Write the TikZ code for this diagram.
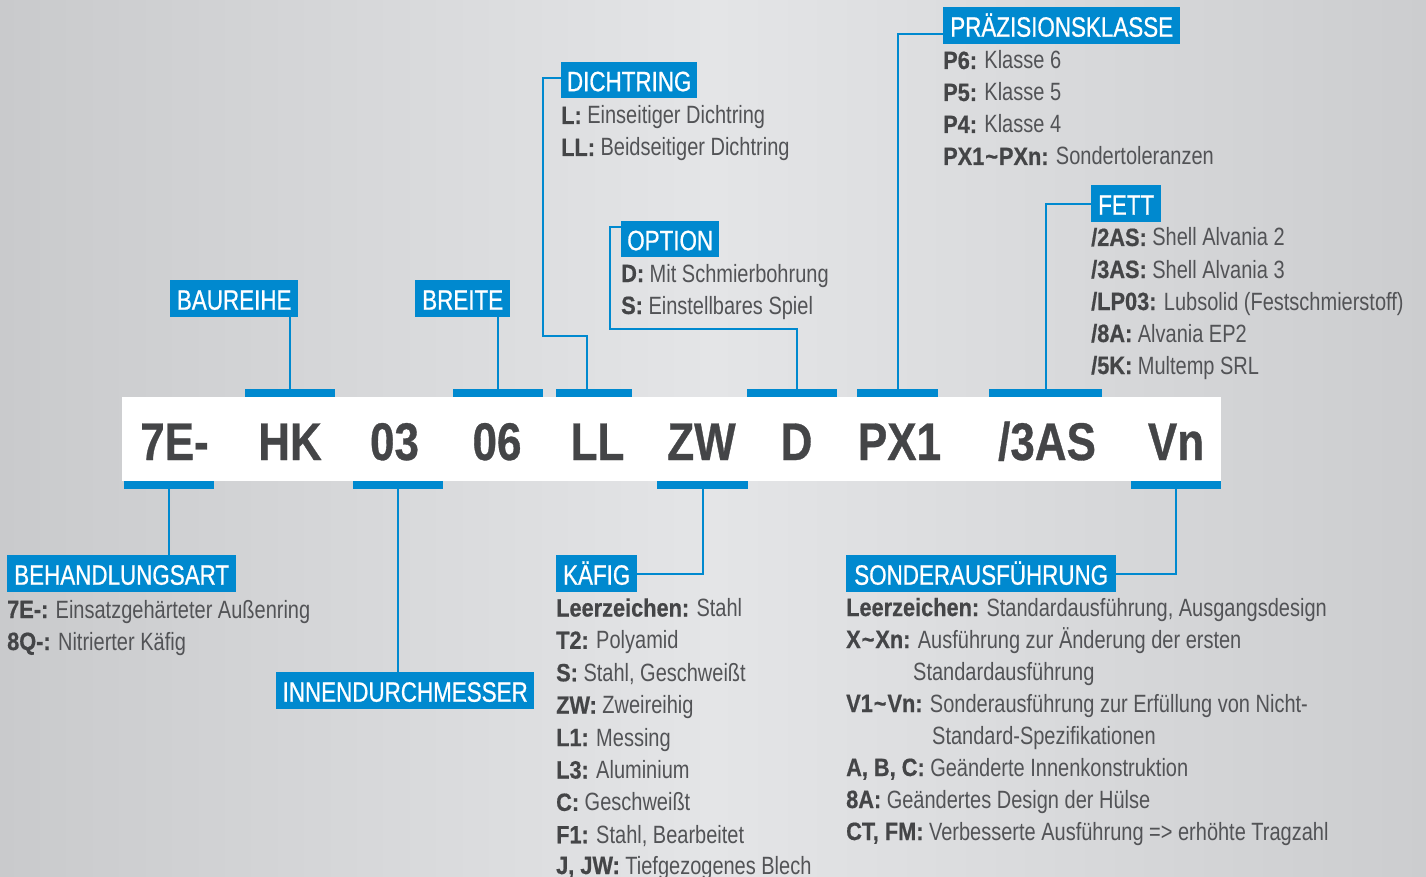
\documentclass[tikz,border=0pt]{standalone}
\usepackage{fontspec}
\setmainfont{Liberation Sans}[FakeStretch=0.8]
\newfontfamily\bfam{Liberation Sans}[FakeStretch=0.87,FakeBold=0.6]
\newfontfamily\cfam{Liberation Sans}[FakeStretch=0.83,FakeBold=0.6]
\newfontfamily\lfam{Liberation Sans}[FakeStretch=0.8,FakeBold=0.7]
\definecolor{bblue}{RGB}{0,137,207}
\definecolor{tgray}{RGB}{82,83,86}
\definecolor{tgrayD}{RGB}{68,69,71}
\definecolor{bgA}{RGB}{201,202,204}
\definecolor{bgB}{RGB}{228,229,231}
\definecolor{bgC}{RGB}{204,205,207}
\newcommand\keyline[5]{\node[txt] (#1) at (#2,#3) {{\color{tgrayD}\bfam\bfseries #4} #5};}
\newcommand\tld{\kern1pt\textasciitilde\kern1pt}
\begin{document}
\begin{tikzpicture}[x=1pt,y=-1pt,
  lab/.style={fill=bblue,text=white,inner xsep=0pt,inner ysep=0pt,anchor=north west,
    minimum height=37pt,text height=22pt,text depth=0pt,font=\fontsize{28}{28}\selectfont\lfam},
  bar/.style={fill=bblue,inner sep=0pt,minimum height=8pt},
  conn/.style={draw=bblue,line width=2.2pt},
  code/.style={anchor=base,inner sep=0pt,text=tgrayD,font=\fontsize{53}{53}\selectfont\cfam\bfseries},
  txt/.style={anchor=base west,inner sep=0pt,text=tgray,font=\fontsize{25}{25}\selectfont}]
\useasboundingbox (0,0) rectangle (1426,877);
\shade[left color=bgA,right color=bgC,middle color=bgB] (0,0) rectangle (1426,877);

% white band
\node[fill=white,inner sep=0pt,minimum width=1099pt,minimum height=84pt,anchor=north west] (band) at (122,397) {};

% code letters
\node[code] (c7E) at (174.5,460) {7E-};
\node[code] (cHK) at (290,460) {HK};
\node[code] (c03) at (394.5,460) {03};
\node[code] (c06) at (497,460) {06};
\node[code] (cLL) at (597.5,460) {LL};
\node[code] (cZW) at (701.5,460) {ZW};
\node[code] (cD) at (796.5,460) {D};
\node[code] (cPX) at (899.5,460) {PX1};
\node[code] (c3AS) at (1047,460) {/3AS};
\node[code] (cVn) at (1176,460) {Vn};

% top bars
\node[bar,minimum width=90pt,anchor=south west] (bHK) at (245,397) {};
\node[bar,minimum width=90pt,anchor=south west] (b06) at (453,397) {};
\node[bar,minimum width=76pt,anchor=south west] (bLL) at (556,397) {};
\node[bar,minimum width=90pt,anchor=south west] (bD) at (747,397) {};
\node[bar,minimum width=81pt,anchor=south west] (bPX) at (857,397) {};
\node[bar,minimum width=113pt,anchor=south west] (b3AS) at (989,397) {};
% bottom bars
\node[bar,minimum width=90pt,anchor=north west] (b7E) at (124,481) {};
\node[bar,minimum width=90pt,anchor=north west] (b03) at (353,481) {};
\node[bar,minimum width=91pt,anchor=north west] (bZW) at (657,481) {};
\node[bar,minimum width=90pt,anchor=north west] (bVn) at (1131,481) {};

% labels
\node[lab,minimum width=237pt] (lPRA) at (943,7) {PRÄZISIONSKLASSE};
\node[lab,minimum width=70pt] (lFET) at (1091,185) {FETT};
\node[lab,minimum width=136pt,minimum height=36pt] (lDIC) at (561,62) {DICHTRING};
\node[lab,minimum width=98pt,minimum height=36pt] (lOPT) at (621,221) {OPTION};
\node[lab,minimum width=128pt] (lBAU) at (170,280) {BAUREIHE};
\node[lab,minimum width=95pt] (lBRE) at (415,280) {BREITE};
\node[lab,minimum width=229pt] (lBEH) at (7,555) {BEHANDLUNGSART};
\node[lab,minimum width=258pt] (lINN) at (276,672) {INNENDURCHMESSER};
\node[lab,minimum width=81pt] (lKAF) at (556,555) {KÄFIG};
\node[lab,minimum width=270pt] (lSON) at (846,555) {SONDERAUSFÜHRUNG};

% connector corner points
\coordinate (dA) at (543,336);
\coordinate (dB) at (587,336);
\coordinate (oA) at (610,329);
\coordinate (oB) at (797,329);

% connectors
\draw[conn] (lBAU.south -| bHK.north) -- (bHK.north);
\draw[conn] (lBRE.south -| b06.north) -- (b06.north);
\draw[conn] ([yshift=2pt]lDIC.west) -| (dA) -- (dB) -- (dB |- bLL.north);
\draw[conn] ([yshift=-6pt]lOPT.north west) -| (oA) -- (oB) -- (oB |- bD.north);
\draw[conn] ([yshift=-8pt]lPRA.west) -| (bPX.north);
\draw[conn] (lFET.west) -| (b3AS.north);
\draw[conn] (b7E.south) -- (b7E.south |- lBEH.north);
\draw[conn] (b03.south) -- (b03.south |- lINN.north);
\draw[conn] (lKAF.east) -| (bZW.south);
\draw[conn] (lSON.east) -| (bVn.south);

% Praezisionsklasse
\keyline{p1}{943}{69}{P6:}{Klasse 6}
\keyline{p2}{943}{101}{P5:}{Klasse 5}
\keyline{p3}{943}{133}{P4:}{Klasse 4}
\keyline{p4}{943}{165}{PX1\tld PXn:}{Sondertoleranzen}
% Fett
\keyline{f1}{1091}{246}{/2AS:}{Shell Alvania 2}
\keyline{f2}{1091}{278}{/3AS:}{Shell Alvania 3}
\keyline{f3}{1091}{310}{/LP03:}{Lubsolid (Festschmierstoff)}
\keyline{f4}{1091}{342}{/8A:}{Alvania EP2}
\keyline{f5}{1091}{374}{/5K:}{Multemp SRL}
% Dichtring
\keyline{d1}{561}{124}{L:}{Einseitiger Dichtring}
\keyline{d2}{561}{156}{LL:}{Beidseitiger Dichtring}
% Option
\keyline{o1}{621}{282}{D:}{Mit Schmierbohrung}
\keyline{o2}{621}{314}{S:}{Einstellbares Spiel}
% Behandlungsart
\keyline{h1}{7}{618}{7E-:}{Einsatzgehärteter Außenring}
\keyline{h2}{7}{650}{8Q-:}{Nitrierter Käfig}
% Kaefig
\keyline{k1}{556}{616.5}{Leerzeichen:}{Stahl}
\keyline{k2}{556}{648.9}{T2:}{Polyamid}
\keyline{k3}{556}{681.3}{S:}{Stahl, Geschweißt}
\keyline{k4}{556}{713.7}{ZW:}{Zweireihig}
\keyline{k5}{556}{746.1}{L1:}{Messing}
\keyline{k6}{556}{778.5}{L3:}{Aluminium}
\keyline{k7}{556}{810.9}{C:}{Geschweißt}
\keyline{k8}{556}{843.3}{F1:}{Stahl, Bearbeitet}
\keyline{k9}{556}{874}{J, JW:}{Tiefgezogenes Blech}
% Sonderausfuehrung
\keyline{s1}{846}{616}{Leerzeichen:}{Standardausführung, Ausgangsdesign}
\keyline{s2}{846}{648}{X\tld Xn:}{Ausführung zur Änderung der ersten}
\node[txt] (s2b) at (913,680) {Standardausführung};
\keyline{s3}{846}{712}{V1\tld Vn:}{Sonderausführung zur Erfüllung von Nicht-}
\node[txt] (s3b) at (932,744) {Standard-Spezifikationen};
\keyline{s4}{846}{776}{A, B, C:}{Geänderte Innenkonstruktion}
\keyline{s5}{846}{808}{8A:}{Geändertes Design der Hülse}
\keyline{s6}{846}{840}{CT, FM:}{Verbesserte Ausführung => erhöhte Tragzahl}
\end{tikzpicture}
\end{document}
